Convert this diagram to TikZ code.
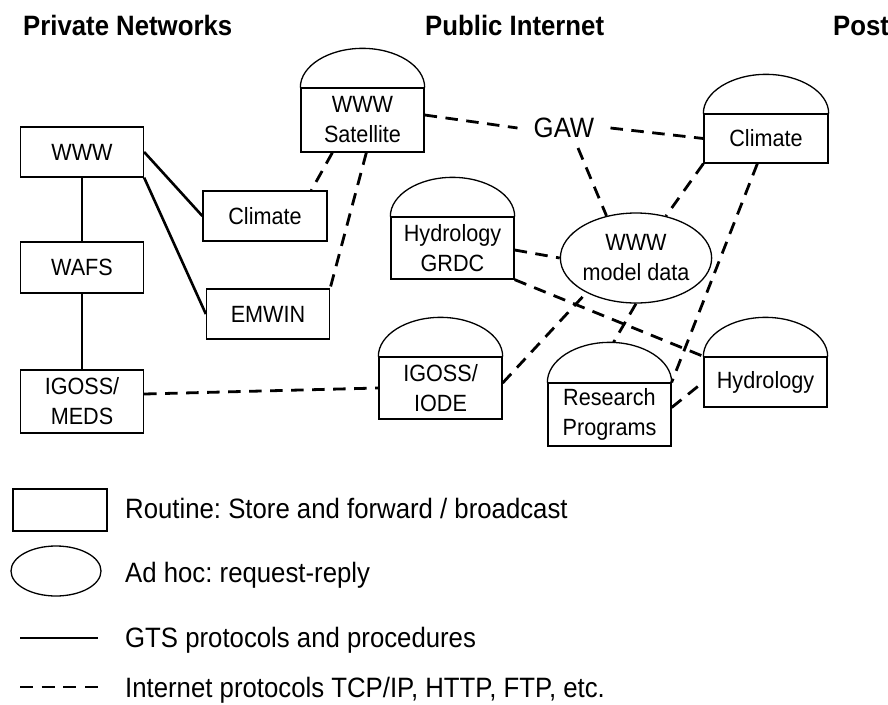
\documentclass[tikz,border=0pt]{standalone}
\usepackage{fontspec}
\setmainfont{Liberation Sans}[FakeStretch=0.92]
\usetikzlibrary{calc,shapes.geometric}
\newcommand\domeon[2]{%
  \draw[boxline] (#1.north west) .. controls +(0,-0.55*#2) and +(-34,0) .. ($(#1.north)+(0,-#2)$) coordinate (#1top)
     .. controls +(34,0) and +(0,-0.55*#2) .. (#1.north east);}
\begin{document}
\frenchspacing
\begin{tikzpicture}[x=1pt,y=-1pt,
  boxline/.style={line width=1.3pt},
  nbox/.style={draw, boxline, rectangle, minimum width=123pt, inner sep=0pt, align=center,
    font=\fontsize{23.5}{30}\selectfont},
  gts/.style={line width=2.6pt},
  inet/.style={line width=2.8pt, dash pattern=on 12.5pt off 8.5pt},
  titletext/.style={font=\fontsize{28}{32}\selectfont\bfseries, anchor=base west, inner sep=0pt},
  legtext/.style={font=\fontsize{28}{32}\selectfont, anchor=base west, inner sep=0pt},
]
\fill[white] (0,0) rectangle (888,704);
\useasboundingbox (0,0) rectangle (888,704);

% titles
\node[titletext] (t1) at (23,35) {Private Networks};
\node[titletext] (t2) at (425,35) {Public Internet};
\node[titletext] (t3) at (833,35) {Post};

% private network boxes
\node[nbox, minimum height=50pt] (www) at (82,152) {WWW};
\node[nbox, minimum height=51pt] (wafs) at (82,267.5) {WAFS};
\node[nbox, minimum height=63pt] (meds) at (82,401.5) {IGOSS/\\MEDS};
\node[nbox, minimum width=124pt, minimum height=50pt] (climL) at (265,216) {Climate};
\node[nbox, minimum height=50pt] (emwin) at (268,314) {EMWIN};

% public internet boxes with domes
\node[nbox, minimum height=64pt] (sat) at (362.5,120) {WWW\\Satellite};
\domeon{sat}{39}
\node[nbox, minimum width=124pt, minimum height=49pt] (climR) at (766,138.5) {Climate};
\domeon{climR}{39}
\node[nbox, minimum height=62pt] (grdc) at (452.5,248) {Hydrology\\GRDC};
\domeon{grdc}{39}
\node[nbox, minimum height=62pt] (iode) at (440.5,388) {IGOSS/\\IODE};
\domeon{iode}{39}
\node[nbox, minimum height=63pt] (research) at (609.5,414.5) {Research\\Programs};
\domeon{research}{40}
\node[nbox, minimum height=50pt] (hydro) at (765.5,382) {Hydrology};
\domeon{hydro}{39}

\node[draw, boxline, ellipse, minimum width=134pt, minimum height=90pt, inner sep=0pt, align=center,
  font=\fontsize{23.5}{30}\selectfont] (model) at (636,258) {WWW\\model data};
\node[font=\fontsize{28}{32}\selectfont, inner xsep=16pt, inner ysep=6pt] (gaw) at (564,128) {GAW};

% GTS (solid) connectors
\draw[gts] (www.east) -- (climL.west);
\draw[gts] (www.south east) -- (emwin.west);
\draw[gts] (www.south) -- (wafs.north);
\draw[gts] (wafs.south) -- (meds.north);

% Internet (dashed) connectors
\draw[inet] ($(sat.east)+(0,-5)$) -- (gaw.west);
\draw[inet] (gaw.east) -- (climR.west);
\draw[inet] ($(gaw.center)+(14,20)$) -- (model.125);
\draw[inet] (climR.south west) -- (model);
\draw[inet] ($(grdc.east)+(0,2)$) -- (model.west);
\draw[inet] (grdc.south east) -- (hydro.north west);
\draw[inet] ($(iode.east)+(0,-5)$) -- (model.215);
\draw[inet] (model.south) -- ($(researchtop)+(4,0)$);
\draw[inet] ($(climR.south west)+(54,0)$) -- (research.north east);
\draw[inet] ($(research.east)+(0,-7)$) -- (hydro.west);
\draw[inet] ($(sat.south west)+(32,0)$) -- ($(climL.north west)+(109,0)$);
\draw[inet] ($(sat.south west)+(66,0)$) -- (emwin.north east);
\draw[inet] ($(meds.east)+(0,-7.5)$) -- (iode.west);

% legend
\node[draw, boxline, rectangle, minimum width=94pt, minimum height=42pt, inner sep=0pt] (legbox) at (60,510) {};
\node[draw, boxline, ellipse, minimum width=90pt, minimum height=50pt, inner sep=0pt] (legell) at (56,571) {};
\coordinate (lsa) at (20,638); \coordinate (lsb) at (98,638);
\coordinate (lda) at (20,687); \coordinate (ldb) at (98,687);
\draw[gts] (lsa) -- (lsb);
\draw[inet, dash pattern=on 13pt off 8.7pt] (lda) -- (ldb);
\node[legtext] (l1) at (125,518) {Routine: Store and forward / broadcast};
\node[legtext] (l2) at (125,582) {Ad hoc: request-reply};
\node[legtext] (l3) at (125,647) {GTS protocols and procedures};
\node[legtext] (l4) at (125,697) {Internet protocols TCP/IP, HTTP, FTP, etc.};
\end{tikzpicture}
\end{document}
